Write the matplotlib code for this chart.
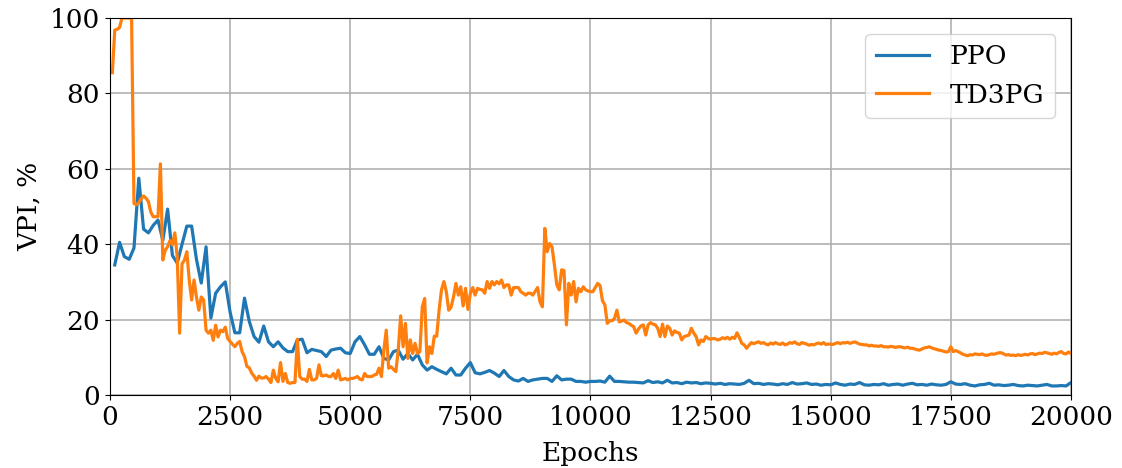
import numpy as np
import matplotlib
matplotlib.use("Agg")
import matplotlib.pyplot as plt

# ── Data ──────────────────────────────────────────────────────────────────
ppo_epochs = np.arange(100, 20001, 100)
ppo_vpi = [
    34.5, 40.5, 36.7, 36.0, 39.0, 57.5, 44.0, 43.0, 45.0, 46.4,
    41.0, 49.3, 37.0, 35.0, 40.0, 44.8, 44.8, 36.0, 29.7, 39.3,
    20.4, 27.0, 28.7, 30.0, 22.0, 16.5, 16.5, 25.7, 19.5, 15.5,
    14.0, 18.3, 14.1, 12.8, 14.1, 12.5, 11.5, 11.5, 14.6, 14.8,
    11.2, 12.1, 11.8, 11.5, 10.2, 11.9, 12.2, 12.4, 11.2, 11.0,
    14.1, 15.5, 13.3, 10.8, 10.8, 12.8, 9.7, 9.3, 11.5, 11.9,
    9.5, 11.0, 9.3, 10.8, 8.0, 6.6, 7.5, 6.8, 6.2, 5.6,
    7.1, 5.3, 5.3, 7.1, 8.6, 5.9, 5.6, 6.0, 6.5, 5.8,
    4.9, 6.5, 4.9, 4.0, 3.7, 4.4, 3.6, 4.0, 4.2, 4.4,
    4.4, 3.6, 5.1, 4.0, 4.2, 4.2, 3.6, 3.6, 3.4, 3.6,
    3.6, 3.7, 3.4, 5.0, 3.6, 3.6, 3.5, 3.4, 3.4, 3.3,
    3.2, 3.8, 3.3, 3.5, 3.2, 3.9, 3.2, 3.3, 3.0, 3.4,
    3.2, 3.3, 3.0, 3.2, 3.1, 2.9, 3.1, 2.8, 3.0, 2.9,
    2.8, 3.1, 3.9, 3.0, 3.1, 2.8, 3.0, 2.9, 2.7, 3.0,
    2.8, 3.3, 2.9, 3.0, 3.2, 2.8, 2.9, 2.6, 2.8, 2.7,
    3.2, 2.8, 2.6, 2.9, 2.8, 3.3, 2.7, 2.6, 2.8, 2.7,
    3.0, 2.6, 2.8, 2.9, 2.6, 2.9, 3.1, 2.7, 2.8, 2.6,
    2.9, 2.7, 2.6, 2.8, 3.5, 2.9, 2.8, 3.0, 2.6, 2.4,
    2.7, 2.8, 3.1, 2.6, 2.7, 2.5, 2.6, 2.8, 2.5, 2.4,
    2.6, 2.5, 2.4, 2.6, 2.8, 2.4, 2.4, 2.5, 2.4, 3.3,
]

td3pg_epochs = np.arange(50, 20001, 50)
td3pg_vpi = [
    85.5, 96.8, 97.0, 97.5, 100.0, 100.0, 100.0, 100.0, 100.0, 50.8,     # 50-500
    50.5, 51.0, 52.0, 52.8, 52.2, 51.3, 48.5, 47.3, 47.3, 47.3,           # 550-1000
    61.3, 35.8, 38.4, 39.3, 41.0, 39.8, 43.0, 36.6, 16.4, 34.8,           # 1050-1500
    35.8, 38.0, 30.5, 25.2, 30.5, 26.0, 22.5, 26.0, 25.2, 17.2,           # 1550-2000
    16.4, 17.2, 14.5, 18.5, 15.4, 17.2, 16.8, 18.0, 15.0, 14.2,           # 2050-2500
    13.5, 12.8, 13.7, 14.2, 11.5, 10.2, 7.6, 7.2, 5.8, 5.0,               # 2550-3000
    3.9, 5.0, 4.5, 4.5, 4.9, 4.2, 3.3, 6.6, 4.4, 3.5,                     # 3050-3500
    8.6, 3.6, 5.7, 3.3, 3.1, 3.3, 3.3, 14.8, 4.9, 4.2,                    # 3550-4000
    4.2, 3.6, 6.8, 4.0, 4.0, 4.4, 8.0, 5.1, 5.1, 5.3,                     # 4050-4500
    4.9, 4.9, 5.7, 4.4, 6.6, 4.0, 4.2, 4.4, 4.0, 4.4,                     # 4550-5000
    4.4, 4.6, 4.9, 4.2, 4.0, 5.7, 4.9, 4.9, 4.9, 5.3,                     # 5050-5500
    5.5, 7.1, 4.9, 11.9, 17.2, 7.1, 7.5, 6.8, 6.2, 11.9,                  # 5550-6000
    21.0, 12.8, 19.0, 9.7, 14.6, 11.0, 13.7, 11.0, 11.5, 23.4,            # 6050-6500
    25.6, 8.5, 12.8, 11.0, 15.6, 15.6, 22.5, 27.9, 30.1, 27.4,            # 6550-7000
    22.5, 23.3, 26.0, 29.6, 26.5, 28.7, 23.6, 28.3, 22.7, 27.0,           # 7050-7500
    28.5, 26.5, 28.3, 28.0, 27.9, 27.0, 30.1, 28.3, 30.1, 29.2,           # 7550-8000
    30.1, 29.5, 30.5, 28.5, 29.2, 29.2, 26.5, 28.5, 28.5, 28.5,           # 8050-8500
    27.4, 27.0, 26.5, 27.0, 27.0, 26.5, 27.5, 28.5, 24.7, 23.4,           # 8550-9000
    44.2, 38.0, 40.2, 39.3, 34.5, 29.2, 27.9, 33.2, 33.0, 18.6,           # 9050-9500
    29.6, 26.5, 30.1, 24.7, 28.3, 27.4, 28.7, 27.9, 27.6, 27.4,           # 9550-10000
    27.4, 28.5, 29.6, 29.0, 25.0, 23.9, 19.0, 19.7, 19.7, 20.3,           # 10050-10500
    22.5, 19.4, 19.6, 19.9, 19.2, 19.0, 18.5, 18.1, 16.4, 17.5,           # 10550-11000
    18.3, 18.6, 15.9, 18.6, 19.2, 18.8, 18.6, 17.7, 15.5, 18.8,           # 11050-11500
    15.5, 18.3, 17.7, 15.9, 17.0, 16.6, 16.4, 14.6, 15.5, 15.7,           # 11550-12000
    15.9, 17.7, 16.4, 15.5, 13.3, 14.6, 14.2, 15.5, 15.0, 14.8,           # 12050-12500
    15.0, 14.9, 14.6, 14.8, 15.2, 14.9, 15.3, 14.8, 15.3, 15.0,           # 12550-13000
    16.5, 15.2, 13.7, 13.3, 12.4, 13.2, 13.9, 13.6, 13.9, 14.1,           # 13050-13500
    13.7, 13.9, 13.5, 13.3, 13.8, 13.5, 13.9, 13.6, 13.4, 13.8,           # 13550-14000
    13.3, 13.5, 13.9, 13.7, 14.1, 13.6, 13.4, 13.9, 13.7, 13.5,           # 14050-14500
    13.2, 13.4, 13.3, 13.6, 13.8, 13.5, 13.9, 13.4, 13.5, 13.5,           # 14550-15000
    13.4, 13.7, 13.9, 13.6, 13.9, 13.8, 14.0, 13.7, 13.9, 14.1,           # 15050-15500
    13.8, 13.5, 13.4, 13.3, 13.3, 13.0, 13.2, 13.0, 13.0, 12.9,           # 15550-16000
    13.1, 12.8, 12.8, 12.7, 12.9, 12.8, 12.6, 12.8, 12.8, 12.6,           # 16050-16500
    12.5, 12.7, 12.4, 12.4, 12.2, 12.0, 11.9, 12.2, 12.5, 12.6,           # 16550-17000
    12.8, 12.5, 12.3, 12.1, 11.9, 11.8, 11.6, 11.4, 11.5, 12.8,           # 17050-17500
    11.5, 11.8, 11.5, 11.2, 10.8, 10.6, 10.4, 10.7, 10.6, 10.9,           # 17550-18000
    10.8, 10.7, 10.9, 10.6, 10.5, 10.7, 10.9, 10.8, 11.0, 11.2,           # 18050-18500
    11.2, 10.9, 10.6, 10.7, 10.5, 10.6, 10.4, 10.7, 10.5, 10.6,           # 18550-19000
    10.8, 10.6, 10.9, 11.0, 10.7, 10.9, 11.1, 11.0, 11.3, 11.2,           # 19050-19500
    11.0, 10.8, 11.1, 10.9, 11.3, 11.5, 11.0, 10.9, 11.4, 11.0,           # 19550-20000
]

x_ticks = [0, 2500, 5000, 7500, 10000, 12500, 15000, 17500, 20000]
y_ticks = [0, 20, 40, 60, 80, 100]

# ── Plot ──────────────────────────────────────────────────────────────────
plt.rcParams["font.family"] = ["DejaVu Serif"]
plt.rcParams["font.size"] = 19

fig = plt.figure(figsize=(11.22, 4.68), dpi=100)
ax = fig.add_axes([0.098, 0.156, 0.8565, 0.8055])

ax.plot(ppo_epochs, ppo_vpi, color="#1f77b4", lw=2.3, label="PPO")
ax.plot(td3pg_epochs, td3pg_vpi, color="#ff7f0e", lw=2.3, label="TD3PG")

ax.set_xlim(0, 20000)
ax.set_ylim(0, 100)
ax.set_xticks(x_ticks)
ax.set_yticks(y_ticks)
ax.grid(True, color="#b0b0b0", lw=1.2)
ax.set_xlabel("Epochs", labelpad=8)
ax.set_ylabel("VPI, %", labelpad=6)
ax.legend(loc="upper right", borderaxespad=0.6)

fig.savefig("out.png", dpi=100)
plt.close(fig)
